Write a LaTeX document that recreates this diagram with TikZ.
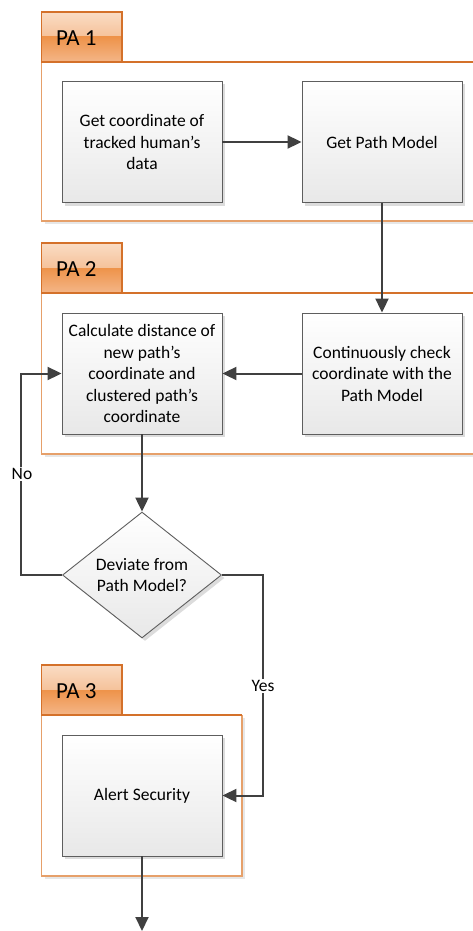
\documentclass[tikz,border=0pt]{standalone}
\usepackage{fontspec}
\setmainfont{Carlito}
\usetikzlibrary{arrows.meta,shapes.geometric,shadows}
\definecolor{tabline}{HTML}{D4712A}
\definecolor{poolline}{HTML}{E6A06A}
\definecolor{tabtopA}{HTML}{FADCC4}
\definecolor{tabtopB}{HTML}{F5C29A}
\definecolor{tabbotA}{HTML}{EE934A}
\definecolor{tabbotB}{HTML}{F4B688}
\definecolor{boxline}{HTML}{5E5E5E}
\definecolor{boxbot}{HTML}{E8E8E8}
\definecolor{shadowgray}{HTML}{DCDCDC}
\definecolor{connector}{HTML}{404040}
% swimlane container: name, label, top, right, bottom
\newcommand{\poolbox}[5]{%
  \fill[shadowgray!70] (41.5+3,#3+3) rectangle (#4+3,#5+3);
  \fill[white] (41.5,#3) rectangle (#4,#5);
  \draw[poolline, line width=1.2pt] (#4,#3) -- (#4,#5) -- (41.5,#5) -- (41.5,#3);
  \draw[tabline, line width=1.1pt] (41.5,#3) -- (#4,#3);
  \fill[top color=tabtopA, bottom color=tabtopB] (41.5,#3-50) rectangle (122,#3-25);
  \fill[top color=tabbotA, bottom color=tabbotB] (41.5,#3-25) rectangle (122,#3);
  \draw[tabline, line width=1.1pt] (41.5,#3-50) rectangle (122,#3);
  \node[tabtext] (#1) at (56,#3-24) {#2};
}
\begin{document}
\begin{tikzpicture}[x=1pt,y=-1pt,
  stepbox/.style={draw=boxline, line width=0.9pt, top color=white, bottom color=boxbot,
    minimum width=160pt, minimum height=121pt, inner sep=2pt, align=center,
    font=\fontsize{17.5}{21.5}\selectfont,
    general shadow={fill=shadowgray, shadow xshift=3pt, shadow yshift=-3pt}},
  decision/.style={diamond, draw=boxline, line width=0.9pt, top color=white, bottom color=boxbot,
    minimum width=159pt, minimum height=120pt, inner sep=0pt, align=center,
    font=\fontsize{17.5}{21.5}\selectfont,
    general shadow={fill=shadowgray, shadow xshift=3pt, shadow yshift=-3pt}},
  conn/.style={draw=connector, line width=2pt, -{Triangle[length=14pt,width=13pt]}},
  lbl/.style={fill=white, inner sep=1.5pt, font=\fontsize{17.5}{20}\selectfont},
  tabtext/.style={anchor=west, inner sep=0pt, font=\fontsize{23}{24}\selectfont}
]
\useasboundingbox (0,0) rectangle (473,931);

\poolbox{paone}{PA 1}{62}{495}{221}
\poolbox{patwo}{PA 2}{293}{495}{454}
\poolbox{pathree}{PA 3}{715}{242}{876}

% process steps
\node[stepbox] (b1) at (142,142) {Get coordinate of\\tracked human’s\\data};
\node[stepbox] (b2) at (382,142) {Get Path Model};
\node[stepbox] (b3) at (142,373.5) {Calculate distance of\\new path’s\\coordinate and\\clustered path’s\\coordinate};
\node[stepbox] (b4) at (382,373.5) {Continuously check\\coordinate with the\\Path Model};
\node[decision] (d) at (142,575) {Deviate from\\Path Model?};
\node[stepbox] (b5) at (142,795.5) {Alert Security};
\coordinate (out) at (142,931);

% connectors
\draw[conn] (b1) -- (b2);
\draw[conn] (b2) -- (b4);
\draw[conn] (b4) -- (b3);
\draw[conn] (b3) -- (d);
\draw[conn] (d.west) -- ++(-41,0) |- (b3.west);
\draw[conn] (d.east) -- ++(41,0) |- (b5.east);
\draw[conn] (b5) -- (out);

% branch labels
\node[lbl] (no) at (22,474) {No};
\node[lbl] (yes) at (263,686) {Yes};
\end{tikzpicture}
\end{document}
